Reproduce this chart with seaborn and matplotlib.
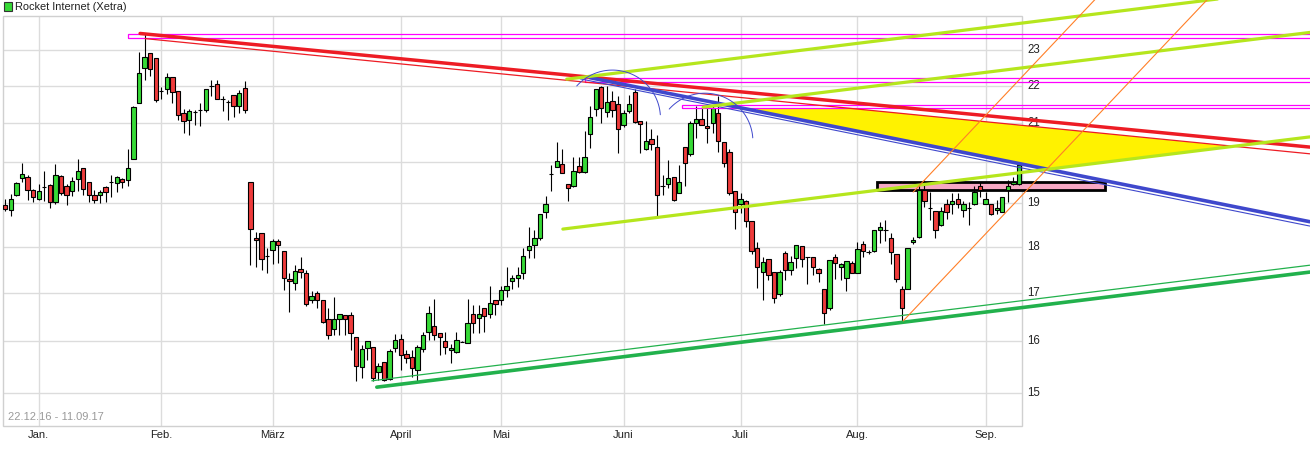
import numpy as np
import pandas as pd
import matplotlib
matplotlib.use("Agg")
import matplotlib.pyplot as plt
import seaborn as sns
from matplotlib.patches import Rectangle, Polygon

# ---------------- data ----------------
holidays = ["2016-12-26", "2017-04-14", "2017-04-17", "2017-05-01", "2017-06-05"]
month_labels = ["Jan.", "Feb.", "März", "April", "Mai", "Juni", "Juli", "Aug.", "Sep."]
y_ticks = [15, 16, 17, 18, 19, 20, 21, 22, 23]

opens = [18.95, 18.84, 19.19, 19.60, 19.64, 19.33, 19.10, 19.40, 19.43, 19.02,
         19.66, 19.42, 19.29, 19.58, 19.85, 19.51, 19.19, 19.19, 19.38, 19.51,
         19.48, 19.58, 19.55, 20.09, 21.53, 22.49, 22.91, 22.77, 21.86, 21.92,
         22.23, 21.86, 21.27, 21.08, 21.30, 21.35, 21.35, 22.00, 22.05, 21.64,
         21.55, 21.76, 21.46, 21.94, 19.50, 18.20, 18.30, 17.80, 17.93, 18.14,
         17.91, 17.28, 17.21, 17.50, 17.43, 16.85, 16.99, 16.84, 16.44, 16.24,
         16.45, 16.53, 16.53, 16.08, 15.49, 15.86, 15.89, 15.40, 15.59, 15.26,
         15.86, 16.05, 15.74, 15.69, 15.43, 15.85, 16.19, 16.31, 16.16, 16.01,
         15.83, 15.78, 15.99, 15.97, 16.55, 16.48, 16.68, 16.55, 16.84, 16.85,
         17.06, 17.24, 17.31, 17.43, 17.93, 18.04, 18.20, 18.80, 19.71, 19.89,
         19.95, 19.46, 19.42, 19.90, 19.75, 20.71, 21.37, 21.96, 21.29, 21.59,
         21.51, 20.94, 21.33, 21.82, 21.06, 20.33, 20.58, 20.38, 19.41, 19.46,
         19.64, 19.24, 20.38, 20.20, 20.99, 21.10, 20.92, 21.00, 21.26, 20.50,
         20.25, 19.30, 18.99, 19.06, 18.59, 17.98, 17.44, 17.73, 17.44, 16.97,
         17.85, 17.49, 17.75, 18.01, 17.77, 17.77, 17.50, 17.08, 16.67, 17.77,
         17.54, 17.31, 17.64, 17.41, 18.06, 17.88, 17.91, 18.37, 18.39, 18.20,
         17.84, 17.08, 17.08, 18.10, 18.23, 19.33, 18.89, 18.82, 18.49, 18.99,
         18.98, 19.10, 18.85, 18.89, 18.99, 19.41, 18.99, 18.99, 18.84, 18.80,
         19.33, 19.46, 19.46]
highs = [19.10, 19.22, 19.50, 19.99, 19.68, 19.34, 19.46, 19.78, 19.46, 19.95,
         19.68, 19.46, 19.64, 20.07, 19.85, 19.51, 19.33, 19.33, 19.41, 19.68,
         19.66, 19.60, 20.33, 21.46, 22.95, 23.46, 22.91, 22.77, 21.96, 22.35,
         22.23, 21.86, 21.38, 21.38, 21.35, 21.53, 21.91, 22.17, 22.17, 21.73,
         21.60, 21.76, 21.89, 22.12, 19.52, 18.33, 18.30, 17.98, 18.18, 18.18,
         17.91, 17.41, 17.59, 17.76, 17.48, 17.04, 17.04, 16.84, 16.67, 16.90,
         16.55, 16.53, 16.59, 16.08, 15.92, 16.00, 15.89, 15.57, 15.59, 15.84,
         16.15, 16.14, 15.83, 15.83, 15.92, 16.19, 16.71, 16.87, 16.16, 16.19,
         15.95, 16.19, 16.00, 16.87, 16.73, 16.73, 16.68, 17.13, 16.84, 17.15,
         17.54, 17.37, 17.55, 17.98, 18.45, 18.39, 18.74, 19.17, 19.93, 20.52,
         20.33, 19.47, 20.14, 20.14, 20.79, 21.46, 21.91, 22.00, 21.98, 21.85,
         21.73, 21.35, 21.76, 21.91, 21.06, 21.05, 20.84, 20.69, 19.68, 20.05,
         19.64, 19.94, 20.38, 21.05, 21.44, 21.44, 21.44, 21.49, 21.73, 20.50,
         20.33, 19.30, 19.24, 19.08, 18.59, 18.10, 17.77, 17.73, 17.44, 17.48,
         17.90, 17.80, 18.05, 18.01, 17.77, 17.77, 17.53, 17.08, 17.71, 17.83,
         17.64, 17.68, 17.68, 18.10, 18.14, 17.92, 18.37, 18.57, 18.60, 18.30,
         17.84, 17.15, 17.98, 18.22, 19.44, 19.56, 19.28, 18.82, 18.92, 19.11,
         19.24, 19.24, 19.06, 19.03, 19.41, 19.52, 19.28, 18.99, 19.07, 19.14,
         19.56, 19.64, 19.97]
lows = [18.82, 18.70, 19.17, 19.50, 19.07, 19.03, 19.09, 19.05, 18.89, 18.99,
        19.19, 18.97, 19.17, 19.29, 19.19, 19.04, 19.01, 19.00, 19.02, 19.15,
        19.28, 19.37, 19.42, 20.09, 21.53, 22.17, 22.26, 21.56, 21.65, 21.78,
        21.53, 21.08, 20.75, 20.69, 20.95, 20.92, 21.30, 21.73, 21.65, 21.31,
        21.08, 21.17, 21.26, 21.26, 17.60, 17.54, 17.49, 17.42, 17.62, 17.64,
        17.06, 16.60, 17.06, 17.32, 16.71, 16.78, 16.67, 16.36, 16.05, 16.12,
        16.12, 16.12, 15.83, 15.22, 15.28, 15.63, 15.22, 15.25, 15.22, 15.25,
        15.79, 15.44, 15.57, 15.31, 15.22, 15.79, 16.02, 16.02, 15.72, 15.74,
        15.57, 15.76, 15.98, 15.97, 16.16, 16.16, 16.19, 16.48, 16.53, 16.73,
        16.90, 17.08, 17.11, 17.28, 17.75, 17.75, 18.16, 18.66, 19.30, 19.89,
        19.72, 19.06, 19.40, 19.74, 19.73, 20.35, 21.19, 21.01, 21.15, 21.15,
        20.24, 20.90, 21.26, 20.99, 20.22, 20.30, 20.31, 18.68, 19.19, 19.36,
        19.06, 19.24, 19.41, 20.15, 20.62, 20.94, 20.49, 20.75, 20.26, 19.89,
        19.19, 18.41, 18.77, 18.45, 17.84, 17.10, 16.85, 17.26, 16.78, 16.92,
        17.26, 17.37, 17.52, 17.54, 17.19, 17.37, 17.22, 16.35, 16.63, 17.30,
        17.26, 17.04, 17.41, 17.41, 17.77, 17.84, 17.88, 18.08, 18.14, 17.62,
        17.22, 16.39, 17.08, 18.07, 18.20, 18.91, 18.60, 18.20, 18.47, 18.64,
        18.76, 18.90, 18.68, 18.49, 18.95, 19.15, 18.98, 18.72, 18.76, 18.80,
        19.04, 19.43, 19.44]
closes = [18.87, 19.11, 19.48, 19.70, 19.32, 19.14, 19.29, 19.40, 19.02, 19.68,
          19.24, 19.19, 19.54, 19.78, 19.34, 19.19, 19.09, 19.26, 19.26, 19.51,
          19.63, 19.50, 19.86, 21.42, 22.35, 22.80, 22.47, 21.62, 21.86, 22.23,
          21.83, 21.22, 21.05, 21.31, 21.30, 21.35, 21.91, 22.00, 21.65, 21.64,
          21.55, 21.46, 21.80, 21.35, 18.40, 18.16, 17.73, 17.80, 18.14, 18.04,
          17.32, 17.24, 17.46, 17.44, 16.77, 16.93, 16.84, 16.39, 16.12, 16.44,
          16.55, 16.44, 16.16, 15.52, 15.84, 16.00, 15.28, 15.51, 15.25, 15.81,
          16.03, 15.73, 15.67, 15.48, 15.89, 16.12, 16.57, 16.12, 16.08, 15.88,
          15.86, 16.03, 15.99, 16.36, 16.36, 16.55, 16.51, 16.79, 16.75, 17.06,
          17.13, 17.32, 17.37, 17.80, 18.02, 18.20, 18.74, 18.99, 19.71, 20.04,
          19.74, 19.36, 19.79, 19.76, 20.14, 21.17, 21.91, 21.40, 21.56, 21.35,
          20.84, 21.26, 21.50, 21.03, 20.97, 20.54, 20.46, 19.21, 19.41, 19.60,
          19.09, 19.52, 19.99, 21.00, 21.10, 20.96, 20.86, 21.40, 20.54, 19.99,
          19.24, 18.80, 19.11, 18.58, 17.91, 17.54, 17.67, 17.37, 16.89, 17.44,
          17.48, 17.66, 18.05, 17.72, 17.77, 17.55, 17.43, 16.58, 17.71, 17.64,
          17.62, 17.68, 17.41, 17.95, 17.91, 17.88, 18.37, 18.45, 18.39, 17.88,
          17.28, 16.67, 17.98, 18.16, 19.33, 19.06, 18.89, 18.37, 18.82, 18.80,
          19.05, 18.99, 18.99, 18.89, 19.28, 19.33, 19.11, 18.74, 18.90, 19.14,
          19.41, 19.51, 19.93]

# drawing-tool annotations: (start index, start price, end index, end price)
red_thick = (24.2, 23.48, 234.2, 20.38)
red_thin = (25.1, 23.33, 234.2, 20.21)
blue_thick = (105.0, 22.22, 234.2, 18.57)
blue_thin = (103.2, 22.19, 234.2, 18.47)
green_thick = (66.7, 15.11, 234.2, 17.44)
green_thin = (65.8, 15.23, 234.2, 17.59)
yg_top = (100.8, 22.18, 234.2, 24.86)
yg_mid = (125.3, 21.42, 234.2, 23.51)
yg_low = (100.1, 18.40, 234.2, 20.64)
orange_a = (163.0, 19.27, 196.5, 24.65)
orange_b = (161.2, 16.41, 218.1, 24.91)
# horizontal magenta boxes: (start index, low price, high price)
magenta_boxes = [(22.0, 23.35, 23.46), (104.1, 22.09, 22.20), (121.5, 21.39, 21.49)]
# pink box: (start index, end index, low price, high price)
pink_box = (156.5, 197.4, 19.32, 19.51)
# yellow area vertices (index, price)
yellow_area = [(134.96, 21.39), (151.8, 21.39), (220.9, 20.39), (187.2, 19.82), (134.96, 21.31)]
# arcs: (center index, center price)
arc_centers = [(109.0, 21.13), (125.6, 20.53)]

# ---------------- figure ----------------
sns.set_theme(style="white")
plt.rcParams['font.family'] = ['Liberation Sans', 'DejaVu Sans']

W, H = 1310, 474
fig = plt.figure(figsize=(W / 100, H / 100), dpi=100)
fig.patch.set_facecolor("white")
ax = fig.add_axes([3 / W, (H - 426) / H, 1307 / W, 426 / H])
ax.set_yscale("log")
XMIN, XMAX = -0.413, 234.24
YMIN, YMAX = 14.396, 24.48
GRID_RIGHT, GRID_TOP = 182.53, 23.99

dates = pd.bdate_range("2016-12-22", "2017-09-11")
dates = dates[~dates.isin(pd.to_datetime(holidays))]
n = len(opens)
dates = dates[:n]
months = dates.month.values
month_pos = [i for i in range(1, n) if months[i] != months[i - 1]]

o = np.array(opens); h = np.array(highs); l = np.array(lows); c = np.array(closes)
x = np.arange(n)

# grid
ax.hlines(y_ticks, XMIN, GRID_RIGHT, color="#dcdcdc", lw=1, zorder=0)
ax.vlines(month_pos, YMIN, GRID_TOP, color="#dcdcdc", lw=1, zorder=0)
ax.add_patch(Rectangle((XMIN + 0.05, YMIN), GRID_RIGHT - XMIN - 0.05, GRID_TOP - YMIN,
                       fill=False, ec="#d0d0d0", lw=1, zorder=0.2, clip_on=False))
for t in y_ticks:
    ax.text(183.43, t, str(t), va="center", ha="left", fontsize=8.3, color="#222222", zorder=0.5)

# yellow area
ax.add_patch(Polygon(yellow_area, closed=True, fc="#fff200", ec="none", zorder=1))
# pink box
ax.add_patch(Rectangle((pink_box[0], pink_box[2]), pink_box[1] - pink_box[0],
                       pink_box[3] - pink_box[2], fc="#f7a8c4", ec="black", lw=2.0, zorder=1.2))

# candles
body_col = np.where(c > o, "#36d936", np.where(c < o, "#ee3b3b", "black"))
ax.vlines(x, l, h, color="black", lw=0.8, zorder=2)
ax.bar(x, np.abs(c - o), bottom=np.minimum(o, c), width=0.78, color=body_col,
       edgecolor="black", linewidth=0.8, zorder=2.1)

# magenta boxes
for x0, lo, hi in magenta_boxes:
    ax.add_patch(Rectangle((x0, lo), 300 - x0, hi - lo, fill=False, ec="#ff00ff", lw=0.9, zorder=3))

def seg(line, color, lw, z=4):
    sns.lineplot(x=[line[0], line[2]], y=[line[1], line[3]], ax=ax, color=color,
                 linewidth=lw, zorder=z, sort=False, estimator=None)

seg(red_thick, "#ed1c24", 2.5)
seg(red_thin, "#ed1c24", 0.9)
seg(blue_thick, "#3f48cc", 2.6)
seg(blue_thin, "#3f48cc", 0.8)
seg(green_thick, "#22b14c", 2.6)
seg(green_thin, "#22b14c", 0.9)
seg(yg_top, "#b5e61d", 2.3)
seg(yg_mid, "#b5e61d", 2.3)
seg(yg_low, "#b5e61d", 2.3)
seg(orange_a, "#ff7f27", 0.8)
seg(orange_b, "#ff7f27", 0.8)

ax.set_xlim(XMIN, XMAX)
ax.set_ylim(YMIN, YMAX)

# arcs (radius in pixels)
for ci, cp in arc_centers:
    cx, cy = ax.transData.transform((ci, cp))
    t = np.radians(np.linspace(4, 138, 120))
    pts = np.column_stack([cx + 48 * np.cos(t), cy + 48 * np.sin(t)])
    dp = ax.transData.inverted().transform(pts)
    ax.plot(dp[:, 0], dp[:, 1], color="#3f48cc", lw=0.7, zorder=4)

# axes cosmetics
for s in ax.spines.values():
    s.set_visible(False)
ax.yaxis.set_major_locator(matplotlib.ticker.NullLocator())
ax.yaxis.set_minor_locator(matplotlib.ticker.NullLocator())
ax.set_xticks(month_pos)
ax.set_xticklabels(month_labels, fontsize=8, color="#222222")
ax.tick_params(axis="x", length=0, pad=3)
ax.set_xlabel("")
ax.set_ylabel("")
ax.grid(False)

ax.text((8 - 3) / 1307, (426 - 417) / 426, "22.12.16 - 11.09.17", transform=ax.transAxes,
        fontsize=8, color="#9a9a9a", va="center", ha="left")

# title with legend square
fig.patches.append(Rectangle((4 / W, 1 - 10.5 / H), 7.5 / W, 8 / H, transform=fig.transFigure,
                             fc="#36d936", ec="#333333", lw=0.8))
fig.text(15 / W, 1 - 6.5 / H, "Rocket Internet (Xetra)", fontsize=7.9, color="#222222",
         va="center", ha="left")

fig.savefig("out.png", dpi=100, facecolor="white")
